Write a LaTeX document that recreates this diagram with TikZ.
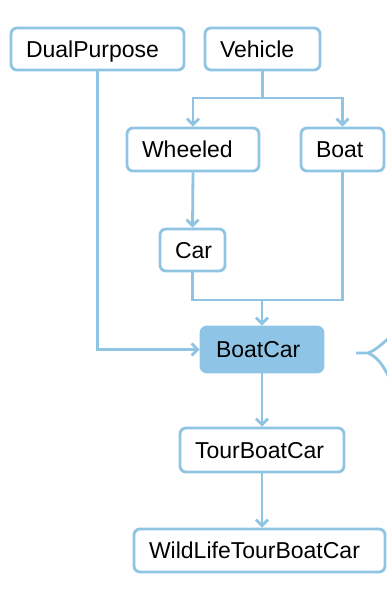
\documentclass[tikz,border=0pt]{standalone}
\usepackage{fontspec}
\setmainfont{Liberation Sans}
\usetikzlibrary{arrows.meta}
\definecolor{linkblue}{RGB}{143,196,227}
\definecolor{fillblue}{RGB}{142,197,230}
\tikzset{
  classbox/.style={draw=linkblue, line width=2.8pt, rounded corners=6pt,
    fill=white, inner xsep=15pt, inner ysep=0pt, align=left,
    text height=16.5pt, text depth=0pt,
    font=\fontsize{23}{27}\selectfont, text=black, anchor=center},
  link/.style={draw=linkblue, line width=2.8pt},
  arrowlink/.style={link, -{Straight Barb[length=6pt,width=12pt]}},
}
\newcommand{\cbox}[6]{% name, x, y, width, height, text
  \node[classbox, minimum width=#4pt, minimum height=#5pt,
        text width=\dimexpr#4pt-30pt\relax] (#1) at (#2,#3) {#6};}
\begin{document}
\begin{tikzpicture}[x=1pt,y=-1pt]
  \useasboundingbox (0,0) rectangle (387,603);
  \fill[white] (0,0) rectangle (387,603);

  % class boxes
  \cbox{DualPurpose}{97.5}{49}{173}{42}{DualPurpose}
  \cbox{Vehicle}{262.5}{49}{115}{42}{Vehicle}
  \cbox{Wheeled}{193}{149.5}{132}{43}{Wheeled}
  \cbox{Boat}{342.5}{149.5}{83}{43}{Boat}
  \cbox{Car}{192.5}{250}{65}{42}{Car}
  \cbox{TourBoatCar}{262}{450}{164}{44}{TourBoatCar}
  \cbox{WildLife}{259.5}{550.5}{251}{43}{WildLifeTourBoatCar}
  \node[classbox, fill=fillblue, draw=fillblue, minimum width=122pt,
        minimum height=45pt, text width=92pt] (BoatCar) at (262,349.5) {BoatCar};

  % junction points of the inheritance links
  \coordinate (vsplit) at (262.5,98);
  \coordinate (bjoin) at (262,300);

  % Vehicle splits into Wheeled and Boat
  \draw[link] (Vehicle.south) -- (vsplit);
  \draw[arrowlink] (vsplit) -| (Wheeled.north);
  \draw[arrowlink] (vsplit) -| (Boat.north);

  % Wheeled to Car
  \draw[arrowlink] (Wheeled.south) -- (Car.north);

  % Car and Boat merge into BoatCar
  \draw[link] (Car.south) |- (bjoin);
  \draw[link] (Boat.south) |- (bjoin);
  \draw[arrowlink] (bjoin) -- (BoatCar.north);

  % DualPurpose into BoatCar
  \draw[arrowlink] (DualPurpose.south) |- (BoatCar.west);

  % down the chain
  \draw[arrowlink] (BoatCar.south) -- (TourBoatCar.north);
  \draw[arrowlink] (TourBoatCar.south) -- (TourBoatCar.south |- WildLife.north);

  % brace tip at the right edge
  \coordinate (tip) at (356,353);
  \coordinate (tipend) at (368,353);
  \draw[link] (tip) -- (tipend)
    .. controls (376,350) and (382,344) .. (390,337);
  \draw[link] (tipend) .. controls (377,357) and (383,364) .. (390,380);
\end{tikzpicture}
\end{document}
